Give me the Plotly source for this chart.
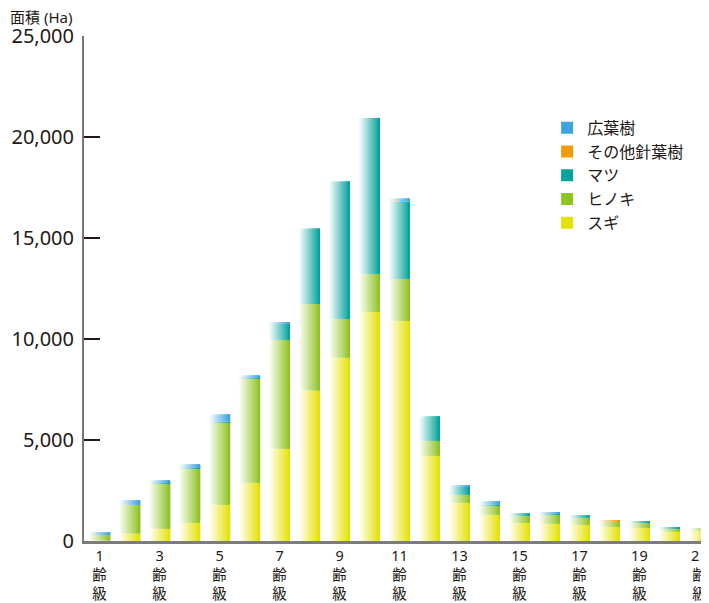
import plotly.graph_objects as go

# ---- data (面積 Ha, 齢級 1..21) ----
age_classes = list(range(1, 22))
tick_vals = [1, 3, 5, 7, 9, 11, 13, 15, 17, 19, 21]
tick_text = [f"{v}<br>齢<br>級" for v in tick_vals]

sugi = [40, 386, 618, 915, 1805, 2893, 4575, 7459, 9091, 11351, 10906,
        4229, 1904, 1311, 915, 866, 816, 717, 668, 470, 519]
hinoki = [267, 1419, 2226, 2656, 4071, 5144, 5391, 4288, 1914, 1880, 2077,
          742, 396, 445, 346, 445, 346, 263, 247, 148, 99]
matsu = [0, 0, 30, 50, 60, 50, 792, 3709, 6776, 7715, 3809,
         1187, 396, 49, 99, 49, 99, 0, 50, 50, 0]
other_conifer = [0, 0, 0, 0, 0, 0, 0, 0, 0, 0, 50,
                 0, 0, 0, 0, 0, 0, 40, 0, 0, 0]
broadleaf = [113, 198, 118, 163, 321, 99, 50, 0, 0, 0, 100,
             0, 49, 149, 0, 50, 0, 0, 0, 0, 0]

series = [
    ("スギ", sugi, (228, 226, 0)),
    ("ヒノキ", hinoki, (141, 194, 31)),
    ("マツ", matsu, (0, 161, 154)),
    ("その他針葉樹", other_conifer, (243, 152, 0)),
    ("広葉樹", broadleaf, (58, 160, 224)),
]

BAR_W = 0.7
N_STEPS = 16

fig = go.Figure()
base = [0] * len(age_classes)
for name, vals, rgb in series:
    for i in range(N_STEPS):
        t = min(1.0, (i + 0.6) / N_STEPS)
        c = tuple(round(255 * (1 - t) + ch * t) for ch in rgb)
        last = i == N_STEPS - 1
        fig.add_trace(go.Bar(
            x=age_classes, y=vals, base=list(base),
            offset=-BAR_W / 2 + i * BAR_W / N_STEPS,
            width=BAR_W - i * BAR_W / N_STEPS,
            marker=dict(color=f"rgb{c}", line=dict(width=0)),
            name=name, legendgroup=name, showlegend=last,
            hoverinfo="skip",
        ))
    base = [b + v for b, v in zip(base, vals)]

FONT = "Noto Sans, Noto Sans CJK JP, sans-serif"

# page body has an 8px margin, so the figure is sized/offset to compensate
fig.update_layout(
    width=701, height=595,
    margin=dict(l=76, r=0, t=28, b=62, pad=0),
    barmode="overlay",
    plot_bgcolor="white", paper_bgcolor="white",
    font=dict(family=FONT, color="#231815"),
    showlegend=True,
    legend=dict(
        x=0.741, y=0.852, xanchor="left", yanchor="top",
        traceorder="reversed",
        font=dict(size=16, family=FONT, color="#231815"),
        bgcolor="rgba(0,0,0,0)", tracegroupgap=0,
    ),
    xaxis=dict(
        range=[0.48, 21.32], tickvals=tick_vals, ticktext=tick_text,
        showgrid=False, zeroline=False, ticks="",
        showline=True, linecolor="rgba(80,80,80,0.75)", linewidth=3,
        tickfont=dict(size=14.5, family=FONT, color="#231815"),
        layer="above traces", automargin=False,
    ),
    yaxis=dict(
        range=[0, 25000], tickvals=[0, 5000, 10000, 15000, 20000, 25000],
        tickformat=",d",
        showgrid=False, zeroline=False,
        ticks="inside", ticklen=16, tickwidth=1.5, tickcolor="#231815",
        showline=True, linecolor="#777777", linewidth=2,
        tickfont=dict(size=20, family=FONT, color="#231815"),
        ticklabelstandoff=4, automargin=False,
    ),
    annotations=[dict(
        text="面積 (Ha)", xref="paper", yref="paper",
        x=-76 / 625, y=1 + 19 / 505.5,
        xanchor="left", yanchor="middle", showarrow=False,
        font=dict(size=15, family=FONT, color="#231815"),
    )],
)

fig.write_html("out.html")
